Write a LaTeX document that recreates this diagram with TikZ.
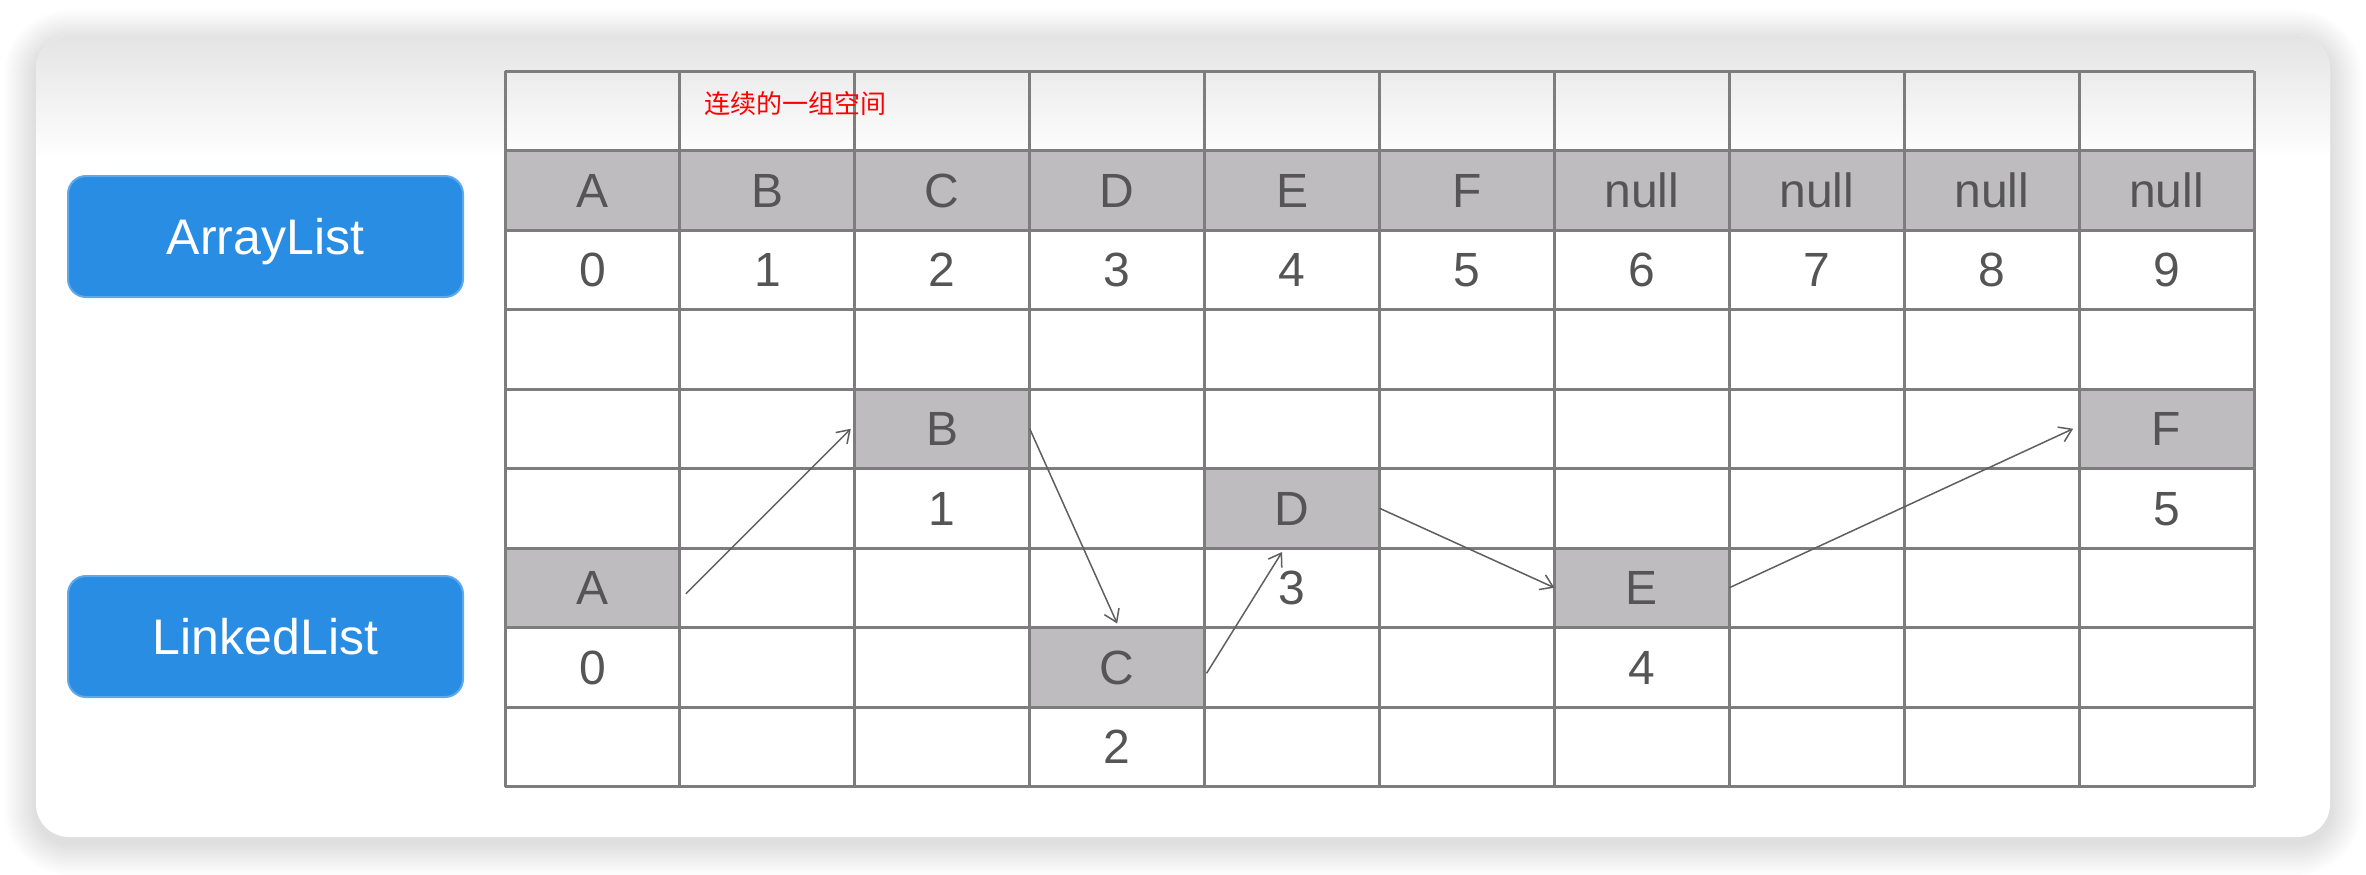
\documentclass[tikz,border=0pt]{standalone}
\usepackage{fontspec}
\setmainfont{Liberation Sans}
\newfontfamily\cjk{Noto Sans CJK SC}
\usetikzlibrary{arrows.meta}
\definecolor{btnblue}{RGB}{42,141,228}
\definecolor{cellgray}{RGB}{190,188,191}
\definecolor{gridline}{RGB}{125,125,125}
\definecolor{txtgray}{RGB}{85,85,85}
\definecolor{arrowgray}{RGB}{95,95,95}
\definecolor{cardtop}{RGB}{228,228,229}
\begin{document}
\begin{tikzpicture}[x=0.5pt,y=-0.5pt,
  cellbox/.style={fill=cellgray, minimum width=87.45pt, minimum height=39.75pt, inner sep=0pt, outer sep=0pt, text=txtgray, font=\fontsize{24}{28}\selectfont, text height=17.2pt, text depth=0pt},
  idxlabel/.style={minimum width=87.45pt, minimum height=39.75pt, inner sep=0pt, outer sep=0pt, text=txtgray, font=\fontsize{24}{28}\selectfont, text height=17.2pt, text depth=0pt},
  btn/.style={fill=btnblue, draw=btnblue!75!white, line width=1pt, rounded corners=9pt, minimum width=197.5pt, minimum height=60.5pt, inner sep=0pt, text=white, font=\fontsize{25}{30}\selectfont, text height=18pt, text depth=0pt},
  gridln/.style={draw=gridline, line width=1.5pt},
  link/.style={draw=arrowgray, line width=0.75pt, -{Straight Barb[length=6pt,width=8pt]}}
]
\useasboundingbox (0,0) rectangle (2366,874);
\fill[white] (0,0) rectangle (2366,874);
% shadow
\foreach \k [evaluate=\k as \r using 17+\k] in {1,...,16}{
  \fill[black, opacity=0.009, rounded corners=\r pt] ({36-2*\k},{36-2*\k+6}) rectangle ({2330+2*\k},{837+2*\k+6});
}
% card
\path[fill=white, rounded corners=16.5pt] (36,36) rectangle (2330,837);
\begin{scope}
  \clip[rounded corners=16.5pt] (36,36) rectangle (2330,837);
  \shade[top color=cardtop, bottom color=white] (36,36) rectangle (2330,160);
\end{scope}
% ArrayList row
\foreach \t [count=\n from 0] in {A,B,C,D,E,F,null,null,null,null}{
  \node[cellbox] (arr\n) at ({592.45+174.9*\n},190.25) {\t};
  \node[idxlabel] (idx\n) at ({592.45+174.9*\n},269.75) {\n};
}
% LinkedList cells
\node[cellbox] (lA) at (592.45,587.75) {A};
\node[idxlabel] (nA) at (592.45,667.25) {0};
\node[cellbox] (lB) at (942.25,428.75) {B};
\node[idxlabel] (nB) at (942.25,508.25) {1};
\node[cellbox] (lC) at (1117.15,667.25) {C};
\node[idxlabel] (nC) at (1117.15,746.75) {2};
\node[cellbox] (lD) at (1292.05,508.25) {D};
\node[idxlabel] (nD) at (1292.05,587.75) {3};
\node[cellbox] (lE) at (1641.85,587.75) {E};
\node[idxlabel] (nE) at (1641.85,667.25) {4};
\node[cellbox] (lF) at (2166.55,428.75) {F};
\node[idxlabel] (nF) at (2166.55,508.25) {5};
% grid lines
\foreach \i in {0,...,10} \draw[gridln] ({505+174.9*\i},71) -- ({505+174.9*\i},786.5);
\foreach \j in {0,...,9} \draw[gridln] (505,{71+79.5*\j}) -- (2254,{71+79.5*\j});
% note
\node[anchor=west, text=red, font=\cjk\fontsize{13}{15}\selectfont, inner sep=0pt] (note) at (704,104) {连续的一组空间};
% buttons
\node[btn] (al) at (265.5,236.5) {ArrayList};
\node[btn] (ll) at (265.5,636.5) {LinkedList};
% links
\draw[link] ([xshift=3pt,yshift=-3pt]lA.east) -- ([xshift=-2pt]lB.west);
\draw[link] (lB.east) -- ([yshift=2pt]lC.north);
\draw[link] ([xshift=1pt,yshift=-3pt]lC.east) -- ([xshift=-5pt,yshift=-2pt]lD.south);
\draw[link] (lD.east) -- (lE.west);
\draw[link] (lE.east) -- ([xshift=-3pt]lF.west);
\end{tikzpicture}
\end{document}
